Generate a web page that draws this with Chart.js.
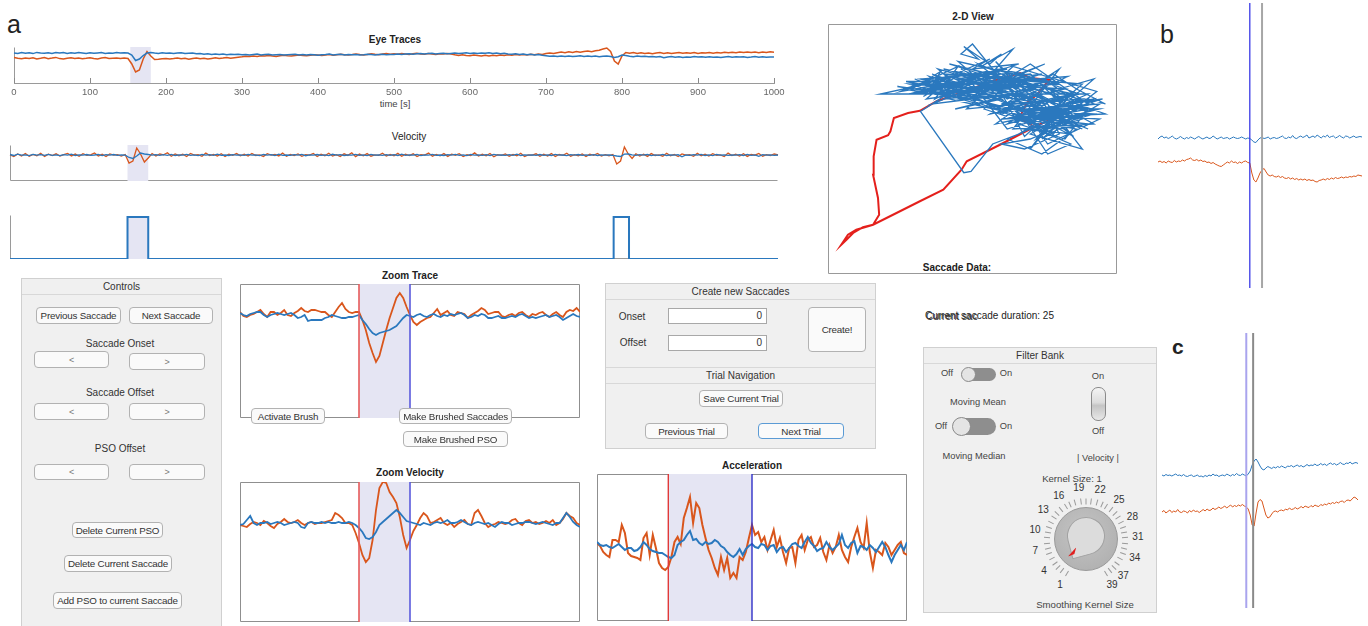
<!DOCTYPE html>
<html>
<head>
<meta charset="utf-8">
<script src="https://cdn.jsdelivr.net/npm/chart.js@4.4.1/dist/chart.umd.min.js"></script>
<style>
body{margin:0;width:1368px;height:626px;background:#fff;position:relative;overflow:hidden;font-family:"Liberation Sans",Arial,sans-serif;color:#222}
.t{position:absolute;font-size:10px;white-space:nowrap;transform:translate(-50%,-50%);line-height:1}
.b{font-weight:bold}
.lbl{position:absolute;line-height:1}
.btn{position:absolute;z-index:2;box-sizing:border-box;background:#fafafa;border:1px solid #b2b2b2;border-radius:4px;font-size:9.8px;letter-spacing:-0.2px;color:#333;display:flex;align-items:center;justify-content:center;white-space:nowrap}
.btn.g{color:#777;font-size:9px}
.panel{position:absolute;box-sizing:border-box;background:#f0f0f0;border:1px solid #d0d0d0}
.ph{position:absolute;left:0;right:0;height:15px;border-bottom:1px solid #d8d8d8;font-size:10px;color:#333;text-align:center;line-height:15px}
.inp{position:absolute;box-sizing:border-box;background:#fff;border:1px solid #a8a8a8;font-size:10px;text-align:right;padding-right:4px;line-height:14px;color:#333}
.sw{position:absolute;box-sizing:border-box;background:#8e8e8e;border-radius:9px}
.knobdot{position:absolute;box-sizing:border-box;background:#e4e4e4;border:1px solid #8a8a8a;border-radius:50%}
.fb{color:#444;font-size:9.3px}
</style>
</head>
<body>

<!-- panel a: long traces -->
<div class="lbl" style="left:7px;top:12px;font-size:25px">a</div>
<div class="t b" style="left:395px;top:40px">Eye Traces</div>
<div class="t" style="left:395px;top:104px;font-size:9.5px;color:#444">time [s]</div>
<div class="t" style="left:409px;top:137px">Velocity</div>

<!-- controls -->
<div class="panel" style="left:21px;top:278px;width:201px;height:360px">
  <div class="ph">Controls</div>
</div>
<div class="btn" style="left:36px;top:307px;width:85px;height:17px">Previous Saccade</div>
<div class="btn" style="left:129px;top:307px;width:84px;height:17px">Next Saccade</div>
<div class="t" style="left:120px;top:344px;color:#333">Saccade Onset</div>
<div class="btn g" style="left:34px;top:351px;width:75px;height:17px">&lt;</div>
<div class="btn g" style="left:129px;top:353px;width:76px;height:17px">&gt;</div>
<div class="t" style="left:120px;top:393px;color:#333">Saccade Offset</div>
<div class="btn g" style="left:34px;top:403px;width:75px;height:17px">&lt;</div>
<div class="btn g" style="left:129px;top:403px;width:76px;height:17px">&gt;</div>
<div class="t" style="left:120px;top:449px;color:#333">PSO Offset</div>
<div class="btn g" style="left:34px;top:464px;width:75px;height:16px">&lt;</div>
<div class="btn g" style="left:129px;top:464px;width:76px;height:16px">&gt;</div>
<div class="btn" style="left:72px;top:522px;width:91px;height:16px">Delete Current PSO</div>
<div class="btn" style="left:64px;top:555px;width:108px;height:17px">Delete Current Saccade</div>
<div class="btn" style="left:53px;top:592px;width:129px;height:17px">Add PSO to current Saccade</div>

<!-- zoom titles -->
<div class="t b" style="left:410px;top:276px">Zoom Trace</div>
<div class="t b" style="left:410px;top:473px">Zoom Velocity</div>
<div class="t b" style="left:752px;top:466px">Acceleration</div>
<div class="btn" style="left:251px;top:408px;width:74px;height:16px">Activate Brush</div>
<div class="btn" style="left:399px;top:408px;width:113px;height:16px">Make Brushed Saccades</div>
<div class="btn" style="left:403px;top:431px;width:105px;height:16px">Make Brushed PSO</div>

<!-- create saccades -->
<div class="panel" style="left:605px;top:283px;width:271px;height:166px">
  <div class="ph">Create new Saccades</div>
  <div class="ph" style="top:83px;border-top:1px solid #d8d8d8">Trial Navigation</div>
</div>
<div class="t" style="left:632px;top:317px;color:#333">Onset</div>
<div class="t" style="left:633px;top:343px;color:#333">Offset</div>
<div class="inp" style="left:668px;top:308px;width:99px;height:16px">0</div>
<div class="inp" style="left:668px;top:335px;width:99px;height:16px">0</div>
<div class="btn" style="left:808px;top:307px;width:58px;height:45px">Create!</div>
<div class="btn" style="left:699px;top:390px;width:84px;height:17px">Save Current Trial</div>
<div class="btn" style="left:645px;top:423px;width:83px;height:16px">Previous Trial</div>
<div class="btn" style="left:758px;top:423px;width:86px;height:16px;border-color:#5b9bd5">Next Trial</div>

<!-- 2-D view -->
<div class="t b" style="left:973px;top:17px">2-D View</div>
<div class="t b" style="left:957px;top:268px">Saccade Data:</div>

<!-- b / c labels -->
<div class="lbl" style="left:1160px;top:22px;font-size:25px">b</div>
<div class="lbl b" style="left:1172px;top:336px;font-size:21px">c</div>

<!-- filter bank -->
<div style="position:absolute;left:925px;top:311px;font-size:10px;line-height:1;white-space:nowrap">Current saccade duration: 25</div>
<div style="position:absolute;left:926px;top:312px;font-size:10px;line-height:1;white-space:nowrap;color:#333">Current sac</div>
<div class="panel" style="left:923px;top:347px;width:234px;height:266px">
  <div class="ph">Filter Bank</div>
</div>
<div class="t fb" style="left:947px;top:374px">Off</div>
<div class="sw" style="left:962px;top:368px;width:34px;height:13px"></div>
<div class="knobdot" style="left:961px;top:367px;width:15px;height:15px"></div>
<div class="t fb" style="left:1006px;top:374px">On</div>
<div class="t fb" style="left:978px;top:403px">Moving Mean</div>
<div class="t fb" style="left:941px;top:427px">Off</div>
<div class="sw" style="left:953px;top:418px;width:43px;height:17px"></div>
<div class="knobdot" style="left:952px;top:417px;width:19px;height:19px"></div>
<div class="t fb" style="left:1006px;top:427px">On</div>
<div class="t fb" style="left:974px;top:457px">Moving Median</div>
<div class="t fb" style="left:1098px;top:377px">On</div>
<div style="position:absolute;left:1091px;top:387px;width:15px;height:34px;box-sizing:border-box;border:1px solid #8a8a8a;border-radius:7px;background:linear-gradient(#f4f4f4,#dcdcdc 45%,#c4c4c4 55%,#e8e8e8)"></div>
<div class="t fb" style="left:1098px;top:432px">Off</div>
<div class="t fb" style="left:1098px;top:459px">| Velocity |</div>
<div class="t fb" style="left:1072px;top:479px;font-size:9.6px">Kernel Size: 1</div>
<div class="t fb" style="left:1085px;top:605px;font-size:9.6px">Smoothing Kernel Size</div>
<div id="knob"></div>

<script>
// Long eye traces, one sample every 5 s (0 .. 1000 s)
const sampleStep = 5;
const eyeBlue = [
  30.0, 29.5, 30.5, 29.8, 30.2, 29.4, 30.6, 30.1, 29.7, 30.3, 29.6, 30.4, 29.9, 30.5, 29.5, 30.2, 29.8, 30.6, 30.0, 29.4,
  30.3, 29.7, 30.1, 30.5, 29.6, 30.0, 29.8, 30.4, 29.9, 30.2,
  30.0, 28.0, 22.5, 24.0, 27.5, 30.0, 30.5, 30.0, 29.6, 30.2,
  29.8, 30.1, 29.5, 29.9, 30.3, 29.4, 29.7, 30.0, 29.2, 29.6, 28.8, 29.3, 28.6, 29.0, 28.5, 28.9, 28.3, 28.7, 28.4, 28.8,
  28.2, 28.6, 28.0, 28.5, 28.9, 28.1, 28.4, 28.7, 28.0, 28.3, 28.6, 27.9, 28.2, 28.5, 28.8, 28.1, 28.4, 28.0, 28.6, 28.3,
  27.8, 28.2, 28.5, 28.9, 28.0, 28.4, 28.7, 28.1, 28.5, 28.2, 28.6, 28.0, 28.3, 28.7, 28.4, 28.1, 28.5, 28.8, 28.2, 28.6,
  28.6, 29.0, 28.5, 28.9, 29.3, 28.8, 29.2, 29.6, 29.0, 29.4, 29.7, 29.1, 29.5, 29.8, 29.2, 29.6, 30.0, 29.4, 29.8,
  30.2, 29.6, 30.1, 29.5, 30.0, 29.7, 30.3, 29.6, 29.9, 29.3, 29.7, 29.1,
  28.8, 29.2, 28.5, 28.9, 28.3, 28.7, 28.0, 28.4, 27.8,
  27.3, 26.8, 27.1, 26.6, 27.0, 26.5, 26.9, 26.4, 26.8, 27.2, 26.6, 27.0, 26.5, 26.9, 26.3, 26.7, 27.1, 26.5, 25.5, 26.2,
  28.0, 27.5, 26.8, 26.3, 26.9, 26.4, 26.7, 26.2, 26.6, 26.1, 26.5, 25.2, 26.0, 26.4, 25.8, 26.3, 25.6, 26.1, 25.8, 26.4,
  25.9, 26.2, 25.7, 26.3, 25.8, 26.1, 25.5, 26.0, 26.4, 25.7, 26.2, 25.9, 26.3, 25.6, 26.0, 26.5, 25.8, 26.2, 25.7, 26.1, 25.9
];
const eyeOrange = [
  25.5, 24.8, 24.2, 25.0, 24.6, 25.3, 24.1, 24.7, 25.4, 24.3, 24.9, 25.6, 24.4, 24.0, 24.8, 25.2, 24.5, 25.0, 24.2, 24.7,
  25.3, 24.6, 24.1, 24.9, 25.4, 24.5, 24.8, 25.1, 24.4, 24.9,
  24.5, 19.0, 11.0, 13.0, 24.0, 31.5, 27.0, 23.5, 23.8, 24.2,
  24.6, 23.9, 24.4, 25.0, 24.2, 24.7, 23.8, 24.5, 25.1, 24.3, 24.8, 24.0, 24.6, 25.2, 24.4, 24.9, 25.5, 24.7, 25.3, 25.8,
  26.2, 26.8, 26.4, 27.0, 26.5, 27.3, 26.9, 27.5, 27.0, 26.6, 27.2, 27.8, 27.3, 26.9, 27.5, 28.0, 27.6, 27.2, 27.8, 28.3,
  27.9, 27.4, 28.0, 28.5, 27.7, 28.2, 28.8, 28.3, 27.9, 28.4, 29.0, 28.5, 28.1, 28.6, 29.2, 28.7, 28.3, 28.9, 29.4, 28.8,
  29.2, 28.7, 29.4, 29.0, 28.6, 29.3, 29.8, 29.1, 28.8, 29.5, 29.0, 28.6, 29.3, 28.9, 29.4, 29.0, 28.2, 27.5, 28.3, 27.6,
  27.2, 28.0, 27.4, 26.9, 27.7, 27.1, 27.8, 27.3, 28.0, 27.5, 28.2, 27.7, 28.4, 27.9, 28.6, 28.1, 28.8, 28.3, 29.0, 28.6,
  29.4, 30.0, 29.5, 30.3, 31.0, 30.2, 31.2, 30.6, 31.5, 30.8, 31.6, 32.0, 31.3, 32.2, 32.8, 34.0, 35.0, 31.5, 22.0, 19.0,
  27.0, 30.5, 29.8, 30.4, 29.6, 30.2, 29.5, 30.1, 29.3, 29.9, 30.4, 29.6, 30.2, 29.4, 30.0, 30.6, 29.7, 30.3, 29.8, 30.5,
  29.6, 30.2, 29.9, 30.6, 29.8, 30.4, 30.0, 30.7, 30.2, 30.8, 30.3, 30.9, 30.4, 31.0, 30.5, 30.9, 30.3, 31.1, 30.6, 31.2, 30.8
];
const velBlue = [
  26.5, 25.5, 26.8, 25.8, 26.2, 25.4, 26.6, 25.9, 26.3, 25.6, 26.7, 25.7, 26.1, 25.3, 26.4, 25.8, 26.9, 25.5, 26.2, 25.9,
  26.5, 25.6, 26.0, 26.6, 25.4, 26.3, 25.8, 26.5, 25.7, 26.1,
  25.8, 23.5, 22.5, 25.0, 28.0, 27.0, 26.5, 25.8, 26.4, 25.6,
  26.3, 25.7, 26.6, 25.5, 26.2, 25.9, 26.7, 25.6, 26.1, 25.4, 26.5, 25.8, 26.3, 25.6, 26.8, 25.7, 26.0, 25.5, 26.4, 25.9,
  26.2, 25.6, 26.7, 25.8, 26.1, 25.4, 26.5, 25.9, 26.3, 25.5, 26.8, 25.7, 26.0, 25.6, 26.4, 25.8, 26.6, 25.3, 26.2, 25.9,
  26.5, 25.7, 26.1, 25.4, 26.7, 25.8, 26.3, 25.5, 26.0, 25.9, 26.6, 25.6, 26.2, 25.4, 26.5, 25.8, 26.1, 25.7, 26.4, 25.6,
  26.3, 25.5, 26.8, 25.7, 26.1, 25.9, 26.5, 25.4, 26.2, 25.8, 26.6, 25.6, 26.0, 25.5, 26.4, 25.9, 26.7, 25.6, 26.2, 25.3,
  26.5, 25.8, 26.1, 25.7, 26.3, 25.4, 26.6, 25.9, 26.0, 25.6, 26.4, 25.7, 26.8, 25.5, 26.2, 25.8, 26.1, 25.6, 26.5, 25.7,
  26.2, 25.5, 26.6, 25.8, 26.0, 25.4, 26.3, 25.9, 26.5, 25.6, 26.1, 25.7, 26.4, 25.5, 26.2, 25.8, 26.0, 25.6, 25.0, 24.5,
  26.8, 27.0, 26.2, 25.6, 26.3, 25.8, 26.5, 25.4, 26.1, 25.7, 26.6, 25.5, 26.2, 25.9, 26.4, 24.2, 26.0, 25.6, 26.3, 25.8,
  26.7, 25.5, 26.1, 25.4, 26.5, 25.8, 26.2, 25.6, 26.0, 25.9, 26.4, 25.5, 26.6, 25.7, 26.1, 24.6, 26.3, 25.8, 26.2, 25.6, 26.0
];
const velOrange = [
  26.0, 24.5, 27.0, 25.0, 27.5, 24.8, 26.5, 25.2, 27.8, 24.6, 26.8, 25.5, 27.2, 24.9, 26.3, 27.6, 25.1, 26.9, 24.7, 27.3,
  25.6, 26.1, 28.0, 25.0, 26.7, 24.4, 27.1, 25.8, 26.4, 24.9,
  26.5, 18.0, 20.0, 33.0, 27.0, 19.0, 23.0, 27.5, 25.0, 27.0,
  26.2, 28.3, 24.8, 27.0, 25.3, 26.8, 24.5, 27.5, 25.9, 26.4, 24.7, 27.9, 25.4, 26.6, 25.0, 27.2, 24.6, 26.9, 25.7, 27.4,
  25.2, 26.8, 24.9, 27.6, 25.5, 26.2, 24.6, 27.3, 25.8, 26.5, 25.1, 27.9, 24.8, 26.6, 25.4, 27.1, 24.7, 26.3, 25.9, 27.5,
  24.5, 26.8, 25.3, 27.7, 25.0, 26.4, 24.6, 27.2, 25.6, 28.2, 24.4, 26.9, 25.2, 27.4, 24.8, 26.1, 25.7, 27.8, 24.9, 26.5,
  25.3, 27.6, 24.7, 26.8, 25.5, 27.2, 24.4, 26.3, 25.9, 27.9, 24.8, 26.6, 25.1, 27.4, 24.6, 26.9, 25.8, 27.3, 24.5, 26.2,
  25.4, 28.1, 24.9, 26.7, 25.2, 27.5, 24.3, 26.4, 25.7, 27.0, 24.8, 26.5, 25.3, 27.8, 24.6, 26.1, 25.9, 27.2, 24.7, 26.8,
  25.1, 27.4, 24.5, 26.6, 25.6, 27.7, 24.8, 26.3, 25.2, 27.1, 24.6, 26.9, 25.7, 27.5, 24.9, 26.4, 25.3, 26.5, 17.0, 20.0,
  34.0, 27.0, 22.5, 27.2, 25.0, 26.8, 24.6, 27.4, 25.5, 26.2, 24.8, 27.8, 25.3, 26.5, 24.5, 27.1, 25.9, 26.4, 24.7, 27.6,
  25.2, 26.9, 24.9, 27.3, 25.6, 26.1, 24.4, 27.9, 25.4, 26.7, 25.0, 27.2, 24.6, 26.5, 25.8, 27.5, 24.8, 26.3, 25.5, 27.0, 26.0
];
// detected saccades [s]
const saccOn = [153, 786];
const saccOff = [180, 806];
const timeTicks = [0, 100, 200, 300, 400, 500, 600, 700, 800, 900, 1000];

// Zoomed window, 101 samples, onset at 35, offset at 50
const zoomOnset = 35, zoomOffset = 50;
const zoomTraceBlue = [105,103,102,104,105,106,106,103,101,103,104,105,104,103,104,105,103,100,101,103,
  97,98,98,98,98,100,101,103,102,101,100,100,101,101,102,103,98,94,89,85,
  83,85,86,87,88,90,92,96,100,103,102,101,103,104,102,101,103,104,102,101,
  103,102,104,103,104,105,103,100,101,103,102,104,103,100,100,101,102,100,100,101,
  102,101,103,104,102,100,101,100,101,102,103,101,102,103,101,98,100,102,104,102,101];
const zoomTraceOrange = [106,102,101,103,104,106,108,104,101,106,106,103,105,108,103,102,105,107,110,107,
  106,108,108,107,106,106,103,101,106,111,115,109,106,105,106,106,98,88,75,65,
  56,62,75,88,100,110,120,125,120,111,103,96,93,96,98,100,101,105,109,103,
  105,107,103,102,106,105,104,100,103,105,107,110,108,104,105,106,106,102,101,103,
  104,102,105,106,103,101,104,103,105,106,103,101,104,106,103,101,106,108,107,110,106];
const zoomVelBlue = [97,98,102,106,99,97,99,99,100,98,99,100,99,97,98,99,100,99,95,94,
  99,100,99,99,100,99,100,99,99,100,99,99,100,99,97,94,90,84,83,85,
  90,97,100,103,106,109,112,109,105,101,100,99,98,97,99,98,97,99,100,99,
  100,102,99,99,100,102,100,98,97,99,100,99,98,99,97,95,98,100,99,99,
  97,98,99,99,100,100,99,98,99,100,99,98,97,99,99,104,109,105,100,97,95];
const zoomVelOrange = [97,96,95,98,100,99,97,101,99,96,94,98,100,103,100,99,100,102,99,97,
  99,100,98,99,99,100,101,102,109,107,104,99,99,97,89,79,67,60,64,82,
  112,134,140,139,130,125,119,105,87,74,82,91,97,104,109,106,99,100,102,104,
  99,97,99,95,98,100,102,98,97,109,112,106,99,95,97,98,100,99,98,99,
  102,103,99,97,101,102,99,100,98,99,101,99,102,97,99,103,109,106,104,99,97];

// Acceleration window, onset at 23, offset at 50
const accOnset = 23, accOffset = 50;
const accBlue = [79,76,75,76,74,73,75,77,74,71,73,73,70,71,74,79,76,72,70,69,
  68,68,66,64,63,66,76,79,81,86,90,81,82,78,76,79,77,78,81,79,
  75,73,69,66,64,67,72,66,72,75,77,74,73,77,76,71,75,76,69,73,
  74,69,73,77,78,75,73,79,84,78,75,70,72,73,79,74,71,74,77,86,
  76,73,78,80,68,75,74,71,76,73,69,74,79,74,66,59,66,71,76,71,79];
const accOrange = [78,75,69,66,64,81,81,79,96,88,68,65,64,63,61,83,88,66,86,73,
  58,53,51,54,64,79,84,77,103,113,124,98,118,113,96,83,71,63,53,46,
  64,51,63,43,48,43,64,61,69,83,96,86,89,79,84,71,81,91,74,83,
  69,58,73,74,58,81,86,71,81,84,74,76,83,69,61,76,68,74,86,71,
  64,59,74,84,93,79,73,98,69,53,71,69,66,78,74,66,71,76,79,68,66];

// 2-D gaze view [x, y]
const gazeBlue = [[40,75],[62,82],[45,78],[70,70],[52,80],[85,72],[60,66],[88,66],[55,74],[75,84],[48,72],[68,62],
  [92,68],[65,78],[42,70],[80,60],[58,85],[72,66],[95,70],[62,58],[50,76],[83,79],[66,70],[46,82],[78,64],[90,58],
  [60,72],[38,76],[70,80],[86,62],[55,68],[75,57],[93,73],[64,83],[48,66],[82,70],[68,55],[57,79],[88,76],[72,60],
  [44,74],[32,65],[47,40.5],[49.5,41],[57,52],[66,56],[80,66],[60,62],[96,64],[74,73],[52,84],[85,55],[63,68],[40,80],
  [78,77],[58,60],[90,68],[70,84],[50,70],[84,60],[62,76],[76,52],[94,62],[66,64],[45,85],[72,78],[87,72],[56,64],
  [80,82],[64,58],[92,60],[60,80],[36,72],[18,72],[34,76],[54,72],[76,68],[88,50],[70,56],[82,64],[62,54],[74,48],
  [86,58],[68,62],[76,48],[84,52],[72,58],[90,64],[80,74],[92,78],[84,70],[75,78],[64,72],[50,92],[46,88],[52,86],
  [47,91],[56,84],[60,88],[53,83],[64,90],[58,82],[68,80],[48,80],[40,82],[60,76],[54,78],[66,74],[74,70],[80,56],
  [68,50],[60,52],[70,54],[82,60],[77,66],[90,70],[96,68],[86,74],[78,80],[70,74],[62,70],[56,76],[44,78],[58,70],
  [66,66],[76,62],[86,66],[74,76],[64,80],[54,66],[70,60],[80,68],[92,66],[84,62],[72,68],[60,64],[50,74],[64,76],
  [78,72],[88,62],[76,58],[30,78],[48,70],[26,74],[44,80],[34,70],[58,74],[28,76],[52,68],[38,82],[62,74],[30,72],
  [46,76],[36,80],[56,70],[24,75],[42,72],[66,78],[34,74],[50,78],[40,70],[72,74],[44,66],[60,70],[38,74],[54,80],
  [32,78],[48,74],[70,76],[42,84],[58,78],[36,68],[64,72],[46,70],[74,80],[52,76],[82,74],[60,68],[88,70],[66,62],
  [78,70],[70,64],[84,66],[74,62],[90,60],[80,58],[86,64],[72,54],[82,68],[92,70],[78,60],[68,58],[84,56],[74,66],
  [94,66],[80,62],[70,68],[88,58],[76,64],[66,60],[82,54],[90,66],[72,62],[86,70],[78,56],[64,66],[92,64],[74,58],
  [84,72],[70,50],[80,64],[88,68],[62,60],[76,70],[86,60],[68,66],[94,68],[74,54],[82,62],[66,72],[90,72],[78,66],
  [58,66],[72,72],[84,64],[62,78],[80,76],[54,74],[70,78],[46,74],[60,82],[40,78],[56,86],[50,82],[66,84],[44,76],[28,72],
  [40,76],[25,73],[38,79],[30,75],[46,80],[33,71],[42,77],[27,77],[36,75],[48,82],[31,73],[44,71],[35,79],[52,73],
  [29,74],[39,81],[34,72],[50,79],[41,74],[56,81],[37,70],[45,83],[32,76],[54,76],[43,79],[60,74],[38,72],[48,77]];
const gazeRed = [[76.9,61.7],[71.1,58.7],[59.5,51.7],[48,45.1],[46.2,41.7],[39.9,33.7],[31.8,29.1],[23.7,24.4],
  [15.6,19.7],[9.8,17.7],[6.9,15.7],[4.6,11.7],[6.4,13.7],[8.7,16.4],[12.1,18.7],[15.6,19.7],[17.7,23.7],[17.3,30.4],
  [15.6,39.7],[15.8,47.1],[16.8,53.7],[20.8,55.5],[21.6,57.1],[22.8,62.4],[27.7,64.4],[31.8,65.3],[37.6,69.1],
  [48,73.3],[57.2,77.3],[66.5,80.4],[69.9,78.4],[76.6,77.7],[72.3,71.7],[68.8,68.4],[66.2,62.4],[71.1,59.1]];

// panel b and c snippets, 101 samples
const bBlue = [149,151,152,150,151,149.5,150.5,152,150,149,150,151.5,150,149,150.5,149.5,151,150,149,150.5,
  151.5,150,149,150,151,149.5,150,152,150.5,149,150,151,149.5,150,150.5,149,150,151,150,149.5,
  150,151,150,149,150,149.5,148,146,145.5,148,150,150.5,149.5,150,151,149,150,150.5,149.5,150,
  151,152,150,149.5,151,150,152.5,150,149.5,151,152,150.5,151.5,153,150,151,152,150.5,153,151.5,
  150,152,151,153,150.5,151.5,152,150,151,152.5,151,150,152,151.5,150,151,152,150.5,151,151.5,151];
const bOrange = [126,127,125.5,126.5,125,127,126,125.5,127.5,126,127,126.5,128,127,128.5,129,130,128,127.5,128.5,
  127,128,126.5,127,125.5,126,124.5,125.5,124,123,122,121.5,123,124.5,126,125,127,125.5,126,124.5,
  126,125,126.5,127,125.5,125,115,108,106,110,115,118,119.5,116,113,112,113,111.5,111,112,
  110.5,111.5,110,109.5,110.5,109,110,108.5,109.5,108,109,108,109,107.5,108.5,107.5,108,106.5,106,107.5,
  108,109,108,109.5,108.5,110,109,110.5,109.5,110,111,110,111,110.5,111.5,111,112,111.5,113,112.5,112];
const bMarks = [45, 51];
const cBlue = [133,132,133.5,132.5,133,132,133,134,132.5,133,132,133.5,132,131.5,132.5,133,131.5,132,133,131.5,
  132,131,132.5,131.5,133,132,134,132.5,133,131.5,132.5,133,132,134,133,132,133.5,132.5,134.5,133,
  132.5,134,133,132,134,137,143,147,149,146,142,139,138,140,141.5,140.5,139.5,141,140,141.5,
  140.5,142,141,140,142,141.5,142.5,141,142,143,141.5,142.5,141,142,143.5,142,143,142.5,144,142.5,
  143,144.5,143,144,142.5,144,145,143.5,144.5,143,144,145.5,144,143.5,145,144.5,146,144,145,145.5,144.5];
const cOrange = [96,97.5,95,96.5,98,95.5,97,96,98.5,96,95.5,97,96.5,95,97.5,96,98,96.5,97,95.5,
  97,98.5,97,99,97.5,98,100,98.5,99.5,101,99.5,100.5,102,100,101.5,103,101,102.5,101.5,103,
  102,103.5,102,101,99,93,83,82,95,106,108.5,107,100,93,90,91,94,96.5,97,96,
  97.5,98,97,99,98,100,98.5,99,100.5,99,100,101.5,100,102,101,100.5,102.5,101,103,102,
  101.5,103.5,102.5,104,103,105,104,105.5,104.5,106,105,106.5,107,105.5,107.5,108,107,109,111,110,108];
const cMarks = [43, 46.5];

// knob
const kernelMin = 1, kernelMax = 39;
const kernelLabels = [1, 4, 7, 10, 13, 16, 19, 22, 25, 28, 31, 34, 37, 39];

const BLUE = '#2a78be', ORANGE = '#d9561c', SHADE = '#e5e5f3';
Chart.defaults.font.family = '"Liberation Sans", Arial, sans-serif';

// plugins: axis frame, shaded saccade, vertical markers, inward ticks
const framePlugin = {
  id: 'frame',
  beforeDatasetsDraw(chart, args, o) {
    if (!o.sides) return;
    const {ctx, chartArea: a} = chart;
    ctx.save();
    ctx.strokeStyle = o.color || '#8f8f8f';
    ctx.lineWidth = 1;
    ctx.beginPath();
    const L = Math.floor(a.left) + 0.5, R = Math.ceil(a.right) - 0.5, T = Math.floor(a.top) + 0.5, B = Math.ceil(a.bottom) - 0.5;
    if (o.sides.includes('left')) { ctx.moveTo(L, T); ctx.lineTo(L, B); }
    if (o.sides.includes('right')) { ctx.moveTo(R, T); ctx.lineTo(R, B); }
    if (o.sides.includes('top')) { ctx.moveTo(L, T); ctx.lineTo(R, T); }
    if (o.sides.includes('bottom')) { ctx.moveTo(L, B); ctx.lineTo(R, B); }
    ctx.stroke();
    ctx.restore();
  }
};
const shadePlugin = {
  id: 'shade',
  beforeDatasetsDraw(chart, args, o) {
    if (!o.spans) return;
    const {ctx, chartArea: a, scales: {x, y}} = chart;
    ctx.save();
    ctx.fillStyle = o.color || SHADE;
    o.spans.forEach(s => {
      const l = x.getPixelForValue(s[0]), r = x.getPixelForValue(s[1]);
      const t = s.length > 2 ? y.getPixelForValue(s[3]) : a.top;
      const b = s.length > 2 ? y.getPixelForValue(s[2]) : a.bottom;
      ctx.fillRect(l, t, r - l, b - t);
    });
    ctx.restore();
  }
};
const vlinePlugin = {
  id: 'vlines',
  afterDatasetsDraw(chart, args, o) {
    if (!o.lines) return;
    const {ctx, chartArea: a, scales: {x}} = chart;
    ctx.save();
    o.lines.forEach(l => {
      const px = x.getPixelForValue(l.x);
      ctx.strokeStyle = l.color;
      ctx.lineWidth = l.width || 1.5;
      ctx.beginPath(); ctx.moveTo(px, a.top); ctx.lineTo(px, a.bottom); ctx.stroke();
    });
    ctx.restore();
  }
};
const innerTickPlugin = {
  id: 'innerTicks',
  afterDraw(chart, args, o) {
    if (!o.on) return;
    const {ctx, chartArea: a, scales: {x}} = chart;
    ctx.save();
    ctx.strokeStyle = '#8a8a8a';
    ctx.lineWidth = 1;
    x.ticks.forEach(t => {
      const px = Math.round(x.getPixelForValue(t.value)) + 0.5;
      ctx.beginPath(); ctx.moveTo(px, a.bottom); ctx.lineTo(px, a.bottom - 5); ctx.stroke();
    });
    ctx.restore();
  }
};
Chart.register(framePlugin, shadePlugin, vlinePlugin, innerTickPlugin);

function addCanvas(left, top, w, h) {
  const c = document.createElement('canvas');
  c.width = w; c.height = h;
  c.style.cssText = 'position:absolute;z-index:1;left:' + left + 'px;top:' + top + 'px';
  document.body.appendChild(c);
  return c;
}
const series = (arr, step) => arr.map((v, i) => ({x: i * step, y: v}));
const pairs = arr => arr.map(p => ({x: p[0], y: p[1]}));
function ds(data, color, width) {
  return {data, borderColor: color, borderWidth: width, pointRadius: 0, tension: 0, fill: false, clip: false};
}
function makeChart(box, datasets, xr, yr, pad, plugins, xScale) {
  return new Chart(addCanvas(box[0], box[1], box[2], box[3]), {
    type: 'line',
    data: {datasets},
    options: {
      responsive: false, animation: false, events: [],
      layout: {padding: pad || 0},
      scales: {
        x: xScale || {type: 'linear', display: false, min: xr[0], max: xr[1]},
        y: {type: 'linear', display: false, min: yr[0], max: yr[1]}
      },
      plugins: Object.assign({legend: {display: false}, tooltip: {enabled: false}}, plugins)
    }
  });
}

// Eye traces
makeChart([0, 47, 800, 65],
  [ds(series(eyeBlue, sampleStep), BLUE, 1.5), ds(series(eyeOrange, sampleStep), ORANGE, 1.5)],
  [0, 1000], [0, 36], {left: 14, right: 26, top: 0, bottom: 0},
  {frame: {sides: ['left'], color: '#9a9a9a'}, shade: {spans: [[saccOn[0], saccOff[0]]]}, innerTicks: {on: true}},
  {type: 'linear', min: 0, max: 1000, afterBuildTicks: s => { s.ticks = timeTicks.map(v => ({value: v})); },
   afterFit: s => { s.height = 29; },
   ticks: {color: '#666', font: {size: 9.5}, padding: 4, autoSkip: false, maxRotation: 0, callback: v => String(v)},
   grid: {display: false, drawTicks: false}, border: {display: true, color: '#9a9a9a'}});

// Velocity
makeChart([0, 145, 800, 36],
  [ds(series(velBlue, sampleStep), BLUE, 1.3), ds(series(velOrange, sampleStep), ORANGE, 1.3)],
  [0, 1000], [0, 36], {left: 10, right: 22, top: 0, bottom: 0},
  {frame: {sides: ['left', 'bottom'], color: '#9a9a9a'}, shade: {spans: [[saccOn[0], saccOff[0]]]}});

// Saccade detection step
const stepPts = [{x: 0, y: 0}];
saccOn.forEach((on, k) => stepPts.push({x: on, y: 0}, {x: on, y: 1}, {x: saccOff[k], y: 1}, {x: saccOff[k], y: 0}));
stepPts.push({x: 1000, y: 0});
makeChart([0, 215, 800, 44],
  [ds(stepPts, BLUE, 2)],
  [0, 1000], [0, 1.05], {left: 10, right: 22, top: 0, bottom: 0},
  {frame: {sides: ['left', 'bottom'], color: '#9a9a9a'}, shade: {spans: [[saccOn[0], saccOff[0], 0, 1]]}});

// Zoom trace / velocity
const zoomMarks = {lines: [{x: zoomOnset, color: '#e65a5a', width: 1.6}, {x: zoomOffset, color: '#5a5adc', width: 1.6}]};
makeChart([240, 284, 340, 134],
  [ds(series(zoomTraceBlue, 1), BLUE, 1.8), ds(series(zoomTraceOrange, 1), ORANGE, 1.8)],
  [0, 100], [0, 134], 0,
  {frame: {sides: ['left', 'right', 'top', 'bottom']}, shade: {spans: [[zoomOnset, zoomOffset]]}, vlines: zoomMarks});
makeChart([240, 482, 340, 140],
  [ds(series(zoomVelBlue, 1), BLUE, 1.8), ds(series(zoomVelOrange, 1), ORANGE, 1.8)],
  [0, 100], [0, 140], 0,
  {frame: {sides: ['left', 'right', 'top', 'bottom']}, shade: {spans: [[zoomOnset, zoomOffset]]}, vlines: zoomMarks});

// Acceleration
makeChart([597, 474, 310, 147],
  [ds(series(accBlue, 1), BLUE, 2), ds(series(accOrange, 1), ORANGE, 2)],
  [0, 100], [0, 147], 0,
  {frame: {sides: ['left', 'right', 'top', 'bottom']}, shade: {spans: [[accOnset, accOffset]]},
   vlines: {lines: [{x: accOnset, color: '#e03a3a', width: 1.4}, {x: accOffset, color: '#3030c8', width: 1.4}]}});

// 2-D view
makeChart([828, 24, 289, 250],
  [ds(pairs(gazeBlue), BLUE, 1.3), ds(pairs(gazeRed), '#e4201c', 2)],
  [0, 100], [0, 100], 0,
  {frame: {sides: ['left', 'right', 'top', 'bottom'], color: '#999'}});

// b and c
makeChart([1158, 3, 204, 285],
  [ds(series(bBlue, 1), BLUE, 1), ds(series(bOrange, 1), ORANGE, 1)],
  [0, 100], [0, 285], 0,
  {vlines: {lines: [{x: bMarks[0], color: '#3a3ae6', width: 1.3}, {x: bMarks[1], color: '#a6a6a6', width: 2}]}});
makeChart([1162, 333, 196, 275],
  [ds(series(cBlue, 1), BLUE, 1), ds(series(cOrange, 1), ORANGE, 1)],
  [0, 100], [0, 275], 0,
  {vlines: {lines: [{x: cMarks[0], color: '#a9a4ee', width: 2}, {x: cMarks[1], color: '#8a8a8a', width: 2}]}});

// Kernel size knob
const knob = document.getElementById('knob');
const kx = 1086, ky = 540;
const ang = v => (-150 + (v - kernelMin) / (kernelMax - kernelMin) * 300) * Math.PI / 180;
let html = '';
for (let v = kernelMin; v <= kernelMax; v++) {
  const a = ang(v), r = 39;
  html += '<div style="position:absolute;left:' + (kx + r * Math.sin(a) - 3) + 'px;top:' + (ky - r * Math.cos(a) - 0.5) +
    'px;width:6px;height:1px;background:#9a9a9a;transform:rotate(' + (a * 180 / Math.PI - 90) + 'deg)"></div>';
}
kernelLabels.forEach(v => {
  const a = ang(v), r = 52;
  html += '<div class="t" style="font-size:10px;color:#333;left:' + (kx + r * Math.sin(a)) + 'px;top:' + (ky - r * Math.cos(a)) + 'px">' + v + '</div>';
});
html += '<div style="position:absolute;left:' + (kx - 32) + 'px;top:' + (ky - 33) + 'px;width:64px;height:64px;box-sizing:border-box;border-radius:50%;border:1px solid #999;background:radial-gradient(circle at 45% 40%,#c4c4c4,#acacac)"></div>';
html += '<div style="position:absolute;left:' + (kx - 19) + 'px;top:' + (ky - 23) + 'px;width:38px;height:38px;box-sizing:border-box;border:1px solid #a2a2a2;background:#dcdcdc;border-radius:50% 50% 50% 0;transform:rotate(-15deg)"></div>';
html += '<div style="position:absolute;left:' + (kx - 19) + 'px;top:' + (ky - 27) + 'px;width:10px;height:8px;background:#e02020;clip-path:polygon(0 100%,100% 0,70% 80%);transform:translate(0,35px) rotate(-10deg)"></div>';
knob.innerHTML = html;
</script>
</body>
</html>
